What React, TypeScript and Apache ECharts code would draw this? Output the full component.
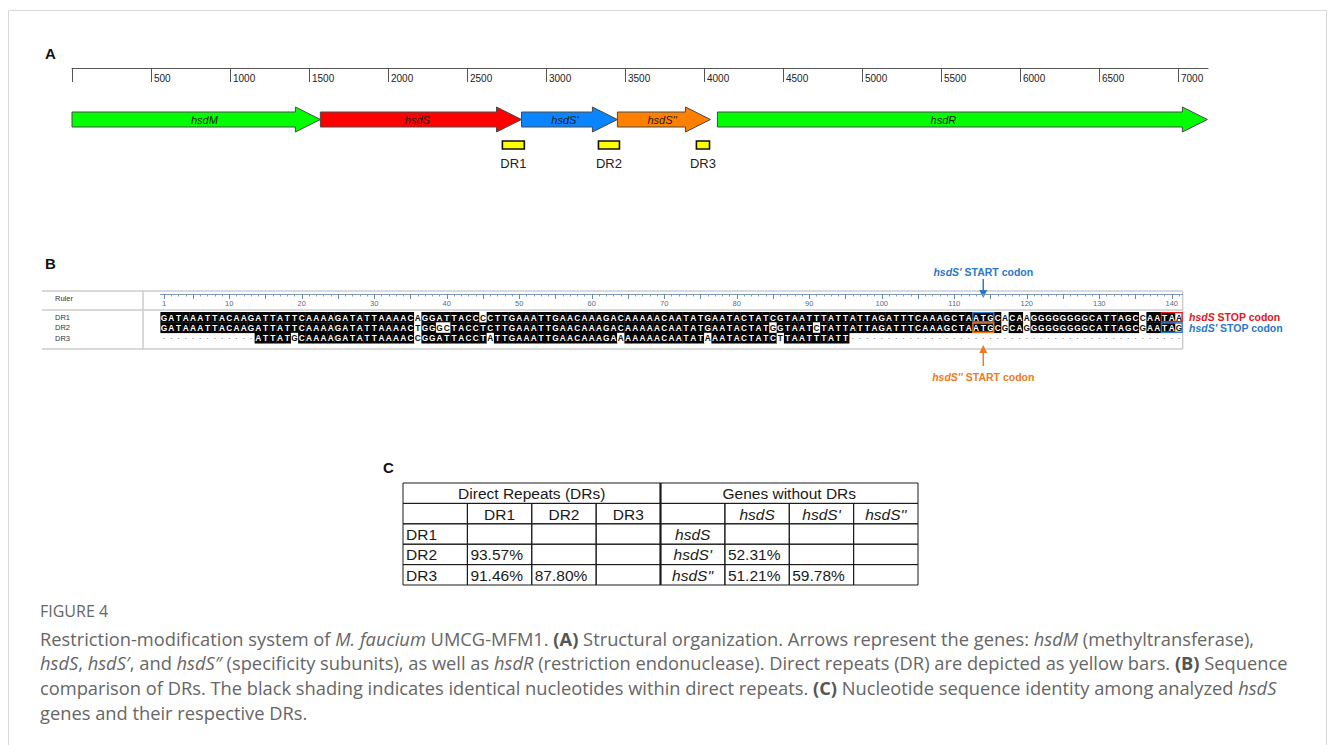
import React, { useEffect, useRef } from "react";
import * as echarts from "echarts";

// ---------- Panel A data ----------
const RULER_TICKS = [0, 500, 1000, 1500, 2000, 2500, 3000, 3500, 4000, 4500, 5000, 5500, 6000, 6500, 7000];
const RULER_LABELS = [500, 1000, 1500, 2000, 2500, 3000, 3500, 4000, 4500, 5000, 5500, 6000, 6500, 7000];
const RULER_END = 7190;
const GENE_NAMES = ["hsdM", "hsdS", "hsdS'", "hsdS''", "hsdR"];
const GENE_START = [0, 1572, 2845, 3452, 4085];
const GENE_END = [1572, 2845, 3452, 4041, 7186];
const GENE_LABEL_AT = [838, 2186, 3120, 3735, 5515];
const GENE_COLORS = ["#00ff00", "#ff0000", "#0a84ff", "#ff8000", "#00ff00"];
const DR_NAMES = ["DR1", "DR2", "DR3"];
const DR_START = [2724, 3332, 3952];
const DR_END = [2863, 3465, 4035];

// ---------- Panel B data ----------
const SEQ_NAMES = ["DR1", "DR2", "DR3"];
const SEQ_DR1 =
  "GATAAATTACAAGATTATTCAAAAGATATTAAAAC" + "AGGATTACCC" + "CTTGAAATTGAACAAAGACAAAAACAATATG" +
  "AATACTATCG" + "TAATTTATTATTAGATTTCAAAGCTA" + "ATG" + "CACAAGGGGGGGGCATTAGCCAATAA";
const SEQ_DR2 =
  "GATAAATTACAAGATTATTCAAAAGATATTAAAAC" + "TGGGCTACCTC" + "TTGAAATTGAACAAAGACAAAAACAATATG" +
  "AATACTATGG" + "TAATCTATTATTAGATTTCAAAGCTA" + "ATG" + "CGCAGGGGGGGGGCATTAGCGAATAG";
const SEQ_DR3 =
  "-------------" + "ATTATG" + "CAAAAGATATTAAAAC" + "CGGATTACCTA" + "TTGAAATTGAACAAAGAA" +
  "AAAAACAATATA" + "AATACTATCT" + "TAATTTATT" + "----------------------------------------------";
const SEQS = [SEQ_DR1, SEQ_DR2, SEQ_DR3];
const N_COLS = 141;
const RULER_B_LABELS = [1, 10, 20, 30, 40, 50, 60, 70, 80, 90, 100, 110, 120, 130, 140];
const RULER_B_MAJOR = [1, 5, 10, 15, 20, 25, 30, 35, 40, 45, 50, 55, 60, 65, 70, 75, 80, 85, 90, 95, 100, 105, 110, 115, 120, 125, 130, 135, 140];
// codon boxes: [startCol, endCol, row, colourIndex]
const CODON_BOXES = [
  [113, 115, 0, 0],
  [113, 115, 1, 1],
  [139, 141, 0, 2],
  [139, 141, 1, 0],
];
const CODON_COLORS = ["#2a78c8", "#ee7a22", "#e8141a"];
const START_CODON_COL = 114;

// ---------- Panel C data ----------
const TABLE_GROUPS = ["Direct Repeats (DRs)", "Genes without DRs"];
const DR_HEADERS = ["DR1", "DR2", "DR3"];
const GENE_HEADERS = ["hsdS", "hsdS'", "hsdS''"];
const DR_IDENTITY = [
  [null, null, null],
  [93.57, null, null],
  [91.46, 87.8, null],
];
const GENE_IDENTITY = [
  [null, null, null],
  [52.31, null, null],
  [51.21, 59.78, null],
];

// ---------- Caption ----------
const FIGURE_LABEL = "FIGURE 4";
const CAPTION_LINES: [string, string][][] = [
  [
    ["n", "Restriction-modification system of "],
    ["i", "M. faucium"],
    ["n", " UMCG-MFM1. "],
    ["b", "(A)"],
    ["n", " Structural organization. Arrows represent the genes: "],
    ["i", "hsdM"],
    ["n", " (methyltransferase),"],
  ],
  [
    ["i", "hsdS"],
    ["n", ", "],
    ["i", "hsdS\u2032"],
    ["n", ", and "],
    ["i", "hsdS\u2033"],
    ["n", " (specificity subunits), as well as "],
    ["i", "hsdR"],
    ["n", " (restriction endonuclease). Direct repeats (DR) are depicted as yellow bars. "],
    ["b", "(B)"],
    ["n", " Sequence"],
  ],
  [
    ["n", "comparison of DRs. The black shading indicates identical nucleotides within direct repeats. "],
    ["b", "(C)"],
    ["n", " Nucleotide sequence identity among analyzed "],
    ["i", "hsdS"],
  ],
  [["n", "genes and their respective DRs."]],
];

const FONT = "'Liberation Sans', Arial, sans-serif";
const CAP_FONT = "'Open Sans', sans-serif";

// layout constants
const A_LEFT = 72;
const A_TOP = 68;
const A_WIDTH = 1136;
const ARROW_Y = 51.5;
const DR_BOX_Y0 = 73;
const DR_BOX_Y1 = 81;
const DR_LABEL_Y = 95;
const B_LEFT = 160.4;
const COL_W = 7.25;
const B_WIDTH = N_COLS * COL_W;
const B_ROWS_TOP = 312;
const ROW_H = 10.4;
const CAP_SIZE = 18.3;

function buildCells() {
  const cells: { c: number; r: number; ch: string; m: boolean }[] = [];
  for (let r = 0; r < SEQS.length; r++) {
    for (let c = 0; c < N_COLS; c++) {
      const ch = SEQS[r][c] || "-";
      let count = 0;
      for (let k = 0; k < SEQS.length; k++) if (SEQS[k][c] === ch) count++;
      cells.push({ c: c + 1, r, ch, m: ch !== "-" && count >= 2 });
    }
  }
  return cells;
}

function buildTable() {
  const t: { c0: number; c1: number; r: number; text: string; italic: boolean; align: string }[] = [];
  t.push({ c0: 0, c1: 4, r: 0, text: TABLE_GROUPS[0], italic: false, align: "center" });
  t.push({ c0: 4, c1: 8, r: 0, text: TABLE_GROUPS[1], italic: false, align: "center" });
  t.push({ c0: 0, c1: 1, r: 1, text: "", italic: false, align: "center" });
  DR_HEADERS.forEach((h, i) => t.push({ c0: 1 + i, c1: 2 + i, r: 1, text: h, italic: false, align: "center" }));
  t.push({ c0: 4, c1: 5, r: 1, text: "", italic: false, align: "center" });
  GENE_HEADERS.forEach((h, i) => t.push({ c0: 5 + i, c1: 6 + i, r: 1, text: h, italic: true, align: "center" }));
  for (let i = 0; i < 3; i++) {
    t.push({ c0: 0, c1: 1, r: 2 + i, text: DR_HEADERS[i], italic: false, align: "left" });
    for (let j = 0; j < 3; j++) {
      const v = DR_IDENTITY[i][j];
      t.push({ c0: 1 + j, c1: 2 + j, r: 2 + i, text: v == null ? "" : v.toFixed(2) + "%", italic: false, align: "left" });
    }
    t.push({ c0: 4, c1: 5, r: 2 + i, text: GENE_HEADERS[i], italic: true, align: "center" });
    for (let j = 0; j < 3; j++) {
      const v = GENE_IDENTITY[i][j];
      t.push({ c0: 5 + j, c1: 6 + j, r: 2 + i, text: v == null ? "" : v.toFixed(2) + "%", italic: false, align: "left" });
    }
  }
  return t;
}

function richLine(segs: [string, string][]) {
  return segs.map(([k, s]) => "{" + k + "|" + s + "}").join("");
}

export default function App() {
  const ref = useRef<HTMLDivElement>(null);
  useEffect(() => {
    document.body.style.margin = "0";
    if (!ref.current) return;
    const chart = echarts.init(ref.current, null, { renderer: "svg" });
    const cells = buildCells();
    const table = buildTable();
    const colX = (c: number) => B_LEFT + (c - 0.5) * COL_W;
    const sx = colX(START_CODON_COL);
    const rowY = (r: number) => B_ROWS_TOP + (r + 0.5) * ROW_H;

    const capRich = {
      n: { fontFamily: CAP_FONT, fontSize: CAP_SIZE, fill: "#666" },
      i: { fontFamily: CAP_FONT, fontSize: CAP_SIZE, fill: "#666", fontStyle: "italic" },
      b: { fontFamily: CAP_FONT, fontSize: CAP_SIZE, fill: "#555", fontWeight: "bold" },
    };
    const annRich = (color: string) => ({
      bi: { fontFamily: FONT, fontSize: 10.5, fontWeight: "bold", fontStyle: "italic", fill: color },
      b: { fontFamily: FONT, fontSize: 10.5, fontWeight: "bold", fill: color },
    });

    const graphic: any[] = [
      { type: "rect", silent: true, z: -10, shape: { x: 8.5, y: 10.5, width: 1318, height: 800 }, style: { fill: "none", stroke: "#d8d8d8", lineWidth: 1 } },
      { type: "text", x: 45, y: 53, style: { text: "A", font: "bold 15px " + FONT, fill: "#111", verticalAlign: "middle" } },
      { type: "text", x: 45, y: 263, style: { text: "B", font: "bold 15px " + FONT, fill: "#111", verticalAlign: "middle" } },
      { type: "text", x: 383, y: 467, style: { text: "C", font: "bold 15px " + FONT, fill: "#111", verticalAlign: "middle" } },
      // panel B frame
      ...[291, 310, 349].map((y) => ({ type: "line", silent: true, shape: { x1: 42, y1: y, x2: B_LEFT + B_WIDTH, y2: y }, style: { stroke: "#cdcdcd", lineWidth: 1.5 } })),
      { type: "line", silent: true, shape: { x1: 143, y1: 291, x2: 143, y2: 349 }, style: { stroke: "#cdcdcd", lineWidth: 1.5 } },
      { type: "line", silent: true, shape: { x1: B_LEFT + B_WIDTH, y1: 291, x2: B_LEFT + B_WIDTH, y2: 349 }, style: { stroke: "#cdcdcd", lineWidth: 1.5 } },
      // annotations
      { type: "text", x: sx, y: 272, style: { text: "{bi|hsdS'}{b| START codon}", rich: annRich("#2a78c8"), align: "center", verticalAlign: "middle" } },
      { type: "line", shape: { x1: sx, y1: 279, x2: sx, y2: 292 }, style: { stroke: "#2a78c8", lineWidth: 1.5 } },
      { type: "polygon", shape: { points: [[sx - 4, 290], [sx + 4, 290], [sx, 298]] }, style: { fill: "#2a78c8" } },
      { type: "line", shape: { x1: sx, y1: 366, x2: sx, y2: 352 }, style: { stroke: "#ee7a22", lineWidth: 1.5 } },
      { type: "polygon", shape: { points: [[sx - 4, 353], [sx + 4, 353], [sx, 345]] }, style: { fill: "#ee7a22" } },
      { type: "text", x: sx, y: 377, style: { text: "{bi|hsdS''}{b| START codon}", rich: annRich("#ee7a22"), align: "center", verticalAlign: "middle" } },
      { type: "text", x: 1189, y: rowY(0) - 0.5, style: { text: "{bi|hsdS}{b| STOP codon}", rich: annRich("#e8141a"), align: "left", verticalAlign: "middle" } },
      { type: "text", x: 1189, y: rowY(1), style: { text: "{bi|hsdS'}{b| STOP codon}", rich: annRich("#2a78c8"), align: "left", verticalAlign: "middle" } },
      // caption
      { type: "text", x: 40, y: 611, style: { text: FIGURE_LABEL, font: "16px " + CAP_FONT, fill: "#666", verticalAlign: "middle" } },
      ...CAPTION_LINES.map((segs, i) => ({
        type: "text",
        x: 40,
        y: 638 + i * 24.8,
        style: { text: richLine(segs), rich: capRich, verticalAlign: "middle", align: "left" },
      })),
    ];

    const option: any = {
      animation: false,
      grid: [
        { left: A_LEFT, top: A_TOP, width: A_WIDTH, height: 100 },
        { left: B_LEFT, top: B_ROWS_TOP, width: B_WIDTH, height: ROW_H * 3 },
        { left: B_LEFT, top: 294, width: B_WIDTH, height: 8 },
        { left: 403, top: 483, width: 515, height: 102 },
      ],
      xAxis: [
        {
          gridIndex: 0,
          type: "value",
          min: 0,
          max: RULER_END,
          position: "top",
          axisLine: { show: true, lineStyle: { color: "#555", width: 1 } },
          axisTick: { show: true, inside: true, length: 14, customValues: RULER_TICKS, lineStyle: { color: "#555", width: 1 } },
          axisLabel: {
            show: true,
            inside: true,
            customValues: RULER_LABELS,
            formatter: (v: number) => String(v),
            align: "left",
            verticalAlign: "middle",
            margin: 10,
            padding: [0, 0, 0, 3],
            fontSize: 10,
            fontFamily: FONT,
            color: "#222",
          },
          splitLine: { show: false },
        },
        { gridIndex: 1, type: "value", min: 0.5, max: N_COLS + 0.5, show: false },
        {
          gridIndex: 2,
          type: "value",
          min: 0.5,
          max: N_COLS + 0.5,
          position: "top",
          axisLine: { show: true, lineStyle: { color: "#7f9bb3", width: 1 } },
          axisTick: { show: true, inside: true, length: 2.5, customValues: SEQ_DR1.split("").map((_, i) => i + 1), lineStyle: { color: "#7f9bb3" } },
          axisLabel: { show: false },
          splitLine: { show: false },
        },
        {
          gridIndex: 2,
          type: "value",
          min: 0.5,
          max: N_COLS + 0.5,
          position: "top",
          axisLine: { show: false },
          axisTick: { show: true, inside: true, length: 5, customValues: RULER_B_MAJOR, lineStyle: { color: "#6d8aa3" } },
          axisLabel: {
            show: true,
            inside: true,
            customValues: RULER_B_LABELS,
            formatter: (v: number) => String(v),
            verticalAlign: "middle",
            margin: 9,
            fontSize: 7.5,
            fontFamily: FONT,
            color: "#4f6f8a",
          },
          splitLine: { show: false },
        },
        { gridIndex: 3, type: "value", min: 0, max: 8, show: false },
      ],
      yAxis: [
        { gridIndex: 0, type: "value", min: 0, max: 100, inverse: true, show: false },
        {
          gridIndex: 1,
          type: "category",
          data: SEQ_NAMES,
          inverse: true,
          axisLine: { show: false },
          axisTick: { show: false },
          axisLabel: { align: "left", margin: B_LEFT - 55, fontSize: 7.5, fontFamily: FONT, color: "#333" },
        },
        {
          gridIndex: 2,
          type: "category",
          data: ["Ruler"],
          axisLine: { show: false },
          axisTick: { show: false },
          axisLabel: { align: "left", margin: B_LEFT - 55, fontSize: 7.5, fontFamily: FONT, color: "#333" },
        },
        { gridIndex: 3, type: "value", min: 0, max: 5, inverse: true, show: false },
      ],
      series: [
        {
          type: "custom",
          name: "genes",
          xAxisIndex: 0,
          yAxisIndex: 0,
          silent: true,
          data: GENE_START.map((s, i) => [s, GENE_END[i], GENE_LABEL_AT[i]]),
          renderItem: (params: any, api: any) => {
            const idx = params.dataIndex;
            const x0 = api.coord([api.value(0), ARROW_Y])[0];
            const p1 = api.coord([api.value(1), ARROW_Y]);
            const x1 = p1[0];
            const yc = p1[1];
            const lx = api.coord([api.value(2), ARROW_Y])[0];
            const hb = 7.5;
            const hh = 12.5;
            const xh = x1 - 25;
            return {
              type: "group",
              children: [
                {
                  type: "polygon",
                  shape: { points: [[x0, yc - hb], [xh, yc - hb], [xh, yc - hh], [x1, yc], [xh, yc + hh], [xh, yc + hb], [x0, yc + hb]] },
                  style: { fill: GENE_COLORS[idx], stroke: "#4a4a4a", lineWidth: 1 },
                },
                {
                  type: "text",
                  x: lx,
                  y: yc,
                  style: { text: GENE_NAMES[idx], fontStyle: "italic", fontSize: 11, fontFamily: FONT, fill: "#1a1a1a", align: "center", verticalAlign: "middle" },
                },
              ],
            };
          },
        },
        {
          type: "custom",
          name: "direct repeats",
          xAxisIndex: 0,
          yAxisIndex: 0,
          silent: true,
          data: DR_START.map((s, i) => [s, DR_END[i]]),
          renderItem: (params: any, api: any) => {
            const idx = params.dataIndex;
            const p0 = api.coord([api.value(0), DR_BOX_Y0]);
            const p1 = api.coord([api.value(1), DR_BOX_Y1]);
            const ly = api.coord([api.value(0), DR_LABEL_Y])[1];
            return {
              type: "group",
              children: [
                { type: "rect", shape: { x: p0[0], y: p0[1], width: p1[0] - p0[0], height: p1[1] - p0[1] }, style: { fill: "#ffff00", stroke: "#111", lineWidth: 1.6 } },
                { type: "text", x: (p0[0] + p1[0]) / 2, y: ly, style: { text: DR_NAMES[idx], fontSize: 13, fontFamily: FONT, fill: "#222", align: "center", verticalAlign: "middle" } },
              ],
            };
          },
        },
        {
          type: "custom",
          name: "alignment",
          xAxisIndex: 1,
          yAxisIndex: 1,
          silent: true,
          data: cells.map((d) => [d.c, d.r]),
          renderItem: (params: any, api: any) => {
            const d = cells[params.dataIndex];
            const p = api.coord([api.value(0), api.value(1)]);
            const s = api.size([1, 1]);
            if (d.ch === "-") {
              return { type: "text", x: p[0], y: p[1], style: { text: "\u00b7", fontSize: 9, fontFamily: FONT, fill: "#777", align: "center", verticalAlign: "middle" } };
            }
            return {
              type: "group",
              children: [
                { type: "rect", shape: { x: p[0] - s[0] / 2, y: p[1] - s[1] / 2, width: s[0] + (d.m ? 0.3 : 0), height: s[1] + (d.m ? 0.3 : 0) }, style: { fill: d.m ? "#000" : "#fff" } },
                { type: "text", x: p[0], y: p[1] + 0.3, style: { text: d.ch, fontSize: 8.3, fontWeight: "bold", fontFamily: FONT, fill: d.m ? "#fff" : "#111", align: "center", verticalAlign: "middle" } },
              ],
            };
          },
        },
        {
          type: "custom",
          name: "codons",
          xAxisIndex: 1,
          yAxisIndex: 1,
          silent: true,
          z: 5,
          data: CODON_BOXES.map((b) => [b[0], b[2], b[1]]),
          renderItem: (params: any, api: any) => {
            const b = CODON_BOXES[params.dataIndex];
            const s = api.size([1, 1]);
            const p0 = api.coord([b[0], b[2]]);
            const p1 = api.coord([b[1], b[2]]);
            return {
              type: "rect",
              shape: { x: p0[0] - s[0] / 2 + 0.5, y: p0[1] - s[1] / 2 + 0.6, width: p1[0] - p0[0] + s[0] - 1, height: s[1] - 1.2 },
              style: { fill: "none", stroke: CODON_COLORS[b[3]], lineWidth: 1.4 },
            };
          },
        },
        {
          type: "custom",
          name: "identity table",
          xAxisIndex: 4,
          yAxisIndex: 3,
          silent: true,
          data: table.map((t) => [t.c0, t.r, t.c1]),
          renderItem: (params: any, api: any) => {
            const t = table[params.dataIndex];
            const p0 = api.coord([t.c0, t.r]);
            const p1 = api.coord([t.c1, t.r + 1]);
            const tx = t.align === "left" ? p0[0] + 3 : (p0[0] + p1[0]) / 2;
            return {
              type: "group",
              children: [
                { type: "rect", shape: { x: p0[0], y: p0[1], width: p1[0] - p0[0], height: p1[1] - p0[1] }, style: { fill: "none", stroke: "#1a1a1a", lineWidth: 1 } },
                {
                  type: "text",
                  x: tx,
                  y: (p0[1] + p1[1]) / 2 + 0.5,
                  style: { text: t.text, fontSize: 15.5, fontFamily: FONT, fontStyle: t.italic ? "italic" : "normal", fill: "#1a1a1a", align: t.align, verticalAlign: "middle" },
                },
              ],
            };
          },
        },
        {
          type: "custom",
          name: "table divider",
          xAxisIndex: 4,
          yAxisIndex: 3,
          silent: true,
          z: 6,
          data: [[4, 0, 5]],
          renderItem: (params: any, api: any) => {
            const p0 = api.coord([api.value(0), api.value(1)]);
            const p1 = api.coord([api.value(0), api.value(2)]);
            return { type: "line", shape: { x1: p0[0], y1: p0[1], x2: p1[0], y2: p1[1] }, style: { stroke: "#1a1a1a", lineWidth: 2.2 } };
          },
        },
      ],
      graphic,
    };
    chart.setOption(option);
    return () => chart.dispose();
  }, []);
  return <div ref={ref} style={{ width: 1328, height: 745, background: "#fff" }} />;
}
